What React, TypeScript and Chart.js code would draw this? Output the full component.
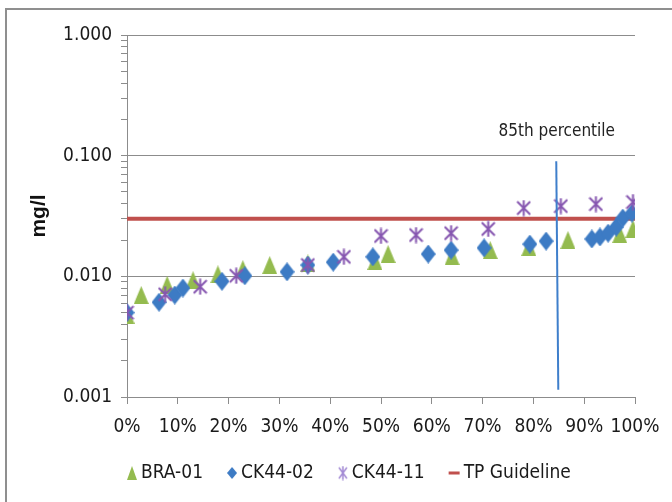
import React, { useEffect, useRef } from 'react';
import { Chart, registerables } from 'chart.js';

Chart.register(...registerables);

// ---------- data ----------
const braX = [0, 2.8, 7.9, 13.0, 17.9, 22.8, 28.1, 35.6, 48.8, 51.4, 64.0, 71.5, 79.1, 86.8, 97.0, 99.6];
const braY = [0.0048, 0.0070, 0.0085, 0.0093, 0.0104, 0.0115, 0.0124, 0.0128, 0.0134, 0.0153, 0.0147, 0.0165, 0.0175, 0.0200, 0.0224, 0.0247];

const ck02X = [0, 6.3, 9.4, 11.0, 18.7, 23.2, 31.5, 35.6, 40.6, 48.4, 59.3, 63.8, 70.3, 79.3, 82.5, 91.5, 93.1, 94.7, 96.3, 97.6, 99.4];
const ck02Y = [0.0050, 0.0061, 0.0070, 0.0080, 0.0091, 0.0101, 0.0109, 0.0124, 0.0131, 0.0145, 0.0153, 0.0165, 0.0172, 0.0185, 0.0196, 0.0204, 0.0212, 0.0228, 0.0256, 0.0304, 0.0334];

const ck11X = [0, 7.5, 14.4, 21.5, 35.6, 42.7, 50.0, 56.9, 63.8, 71.1, 78.1, 85.4, 92.3, 99.6];
const ck11Y = [0.0050, 0.0071, 0.0082, 0.0101, 0.0124, 0.0145, 0.0216, 0.0220, 0.0228, 0.0247, 0.0368, 0.0382, 0.0397, 0.0413];

const guideX = [0, 100];
const guideY = [0.03, 0.03];

const pctLineX = [84.5, 84.9];
const pctLineY = [0.09, 0.00115];

const seriesNames = ['BRA-01', 'CK44-02', 'CK44-11', 'TP Guideline'];
const xTickValues = [0, 10, 20, 30, 40, 50, 60, 70, 80, 90, 100];
const yMajorValues = [0.001, 0.01, 0.1, 1];
const yMajorLabels = ['0.001', '0.010', '0.100', '1.000'];
const yAxisTitle = 'mg/l';
const annotationText = '85th percentile';
const annotationX = 84.6;
const annotationY = 0.157;

// ---------- styles ----------
const NARROW = "'Liberation Sans Narrow', 'Arial Narrow', 'DejaVu Sans Condensed', 'Liberation Sans', Arial, sans-serif";
const GREEN = '#94bb4f';
const BLUE = '#3d7bc4';
const PURPLE = '#8656b0';
const RED = '#c0504d';
const VLINE = '#3f7fcb';
const AXIS = '#8c8c8c';
const TEXT = '#1a1a1a';

function makeCanvas(w: number, h: number, draw: (c: CanvasRenderingContext2D) => void) {
  const c = document.createElement('canvas');
  c.width = w;
  c.height = h;
  const ctx = c.getContext('2d')!;
  draw(ctx);
  return c;
}

function triangle(w: number, h: number, color: string) {
  return makeCanvas(w, h, (c) => {
    c.fillStyle = color;
    c.beginPath();
    c.moveTo(w / 2, 0);
    c.lineTo(w, h);
    c.lineTo(0, h);
    c.closePath();
    c.fill();
  });
}
function diamond(w: number, h: number, color: string) {
  return makeCanvas(w, h, (c) => {
    c.fillStyle = color;
    c.beginPath();
    c.moveTo(w / 2, 0);
    c.lineTo(w, h / 2);
    c.lineTo(w / 2, h);
    c.lineTo(0, h / 2);
    c.closePath();
    c.fill();
  });
}
function asterisk(w: number, h: number, color: string, lw: number) {
  return makeCanvas(w, h, (c) => {
    c.strokeStyle = color;
    c.lineWidth = lw;
    c.beginPath();
    c.moveTo(w / 2, 0.5);
    c.lineTo(w / 2, h - 0.5);
    c.moveTo(1, 2);
    c.lineTo(w - 1, h - 2);
    c.moveTo(w - 1, 2);
    c.lineTo(1, h - 2);
    c.stroke();
  });
}

function pts(xs: number[], ys: number[]) {
  return xs.map((x, i) => ({ x, y: ys[i] }));
}

const isMajor = (v: number) => yMajorValues.some((m) => Math.abs(m - v) < m * 1e-6);

function yTickList() {
  const out: number[] = [];
  for (let e = -3; e < 0; e++) {
    for (let k = 1; k <= 9; k++) {
      out.push(parseFloat((k * Math.pow(10, e)).toPrecision(6)));
    }
  }
  out.push(1);
  return out;
}

export default function App() {
  const ref = useRef<HTMLCanvasElement | null>(null);

  useEffect(() => {
    if (!ref.current) return;
    const triImg = triangle(15, 18, GREEN);
    const diaImg = diamond(15, 19, BLUE);
    const astImg = asterisk(15, 17, PURPLE, 2);

    const legendMarkers = [
      { kind: 'img', img: triangle(10, 14, GREEN), w: 10 },
      { kind: 'img', img: diamond(10, 12, BLUE), w: 10 },
      { kind: 'img', img: asterisk(10, 15, '#a38ad4', 1.5), w: 10 },
      { kind: 'line', color: RED, w: 11 },
    ];

    const framePlugin = {
      id: 'frame',
      beforeDraw(chart: any) {
        const { ctx, width, height } = chart;
        ctx.save();
        ctx.fillStyle = '#ffffff';
        ctx.fillRect(0, 0, width, height);
        ctx.strokeStyle = '#8f8f8f';
        ctx.lineWidth = 2;
        ctx.beginPath();
        ctx.moveTo(6, height + 5);
        ctx.lineTo(6, 9);
        ctx.lineTo(width + 5, 9);
        ctx.stroke();
        ctx.restore();
      },
    };

    const annotationPlugin = {
      id: 'annot',
      afterDatasetsDraw(chart: any) {
        const { ctx, scales } = chart;
        const px = scales.x.getPixelForValue(annotationX);
        const py = scales.y.getPixelForValue(annotationY);
        ctx.save();
        ctx.font = `17px ${NARROW}`;
        ctx.fillStyle = '#222222';
        ctx.textAlign = 'center';
        ctx.textBaseline = 'middle';
        ctx.fillText(annotationText, px, py);
        ctx.restore();
      },
    };

    const legendPlugin = {
      id: 'customLegend',
      afterDraw(chart: any) {
        const { ctx } = chart;
        const y = 473;
        let x = 127;
        ctx.save();
        ctx.font = `19px ${NARROW}`;
        ctx.fillStyle = TEXT;
        ctx.textBaseline = 'middle';
        ctx.textAlign = 'left';
        seriesNames.forEach((name, i) => {
          const m: any = legendMarkers[i];
          if (m.kind === 'img') {
            ctx.drawImage(m.img, x, y - m.img.height / 2);
          } else {
            ctx.fillStyle = m.color;
            ctx.fillRect(x, y - 1.5, m.w, 3);
          }
          const tx = x + m.w + 4;
          ctx.fillStyle = TEXT;
          ctx.fillText(name, tx, y);
          x = tx + ctx.measureText(name).width + 24;
        });
        ctx.restore();
      },
    };

    const yTicks = yTickList();

    const chart = new Chart(ref.current, {
      type: 'scatter',
      data: {
        datasets: [
          {
            label: seriesNames[0],
            data: pts(braX, braY),
            pointStyle: triImg as any,
            backgroundColor: GREEN,
            borderColor: GREEN,
            showLine: false,
            order: 4,
          },
          {
            label: seriesNames[1],
            data: pts(ck02X, ck02Y),
            pointStyle: diaImg as any,
            backgroundColor: BLUE,
            borderColor: BLUE,
            showLine: false,
            order: 3,
          },
          {
            label: seriesNames[2],
            data: pts(ck11X, ck11Y),
            pointStyle: astImg as any,
            backgroundColor: PURPLE,
            borderColor: PURPLE,
            showLine: false,
            order: 2,
          },
          {
            label: seriesNames[3],
            type: 'line' as any,
            data: pts(guideX, guideY),
            borderColor: RED,
            borderWidth: 4,
            pointRadius: 0,
            showLine: true,
            order: 5,
          },
          {
            label: 'percentile',
            type: 'line' as any,
            data: pts(pctLineX, pctLineY),
            borderColor: VLINE,
            borderWidth: 2,
            pointRadius: 0,
            showLine: true,
            order: 1,
          },
        ],
      },
      options: {
        animation: false,
        responsive: false,
        devicePixelRatio: 1,
        layout: { padding: { left: 0, top: 35, right: 37, bottom: 0 } },
        plugins: {
          legend: { display: false },
          tooltip: { enabled: false },
        },
        scales: {
          x: {
            type: 'linear',
            min: 0,
            max: 100,
            afterBuildTicks: (s: any) => {
              s.ticks = xTickValues.map((v) => ({ value: v }));
            },
            afterFit: (s: any) => {
              s.height = 105;
            },
            ticks: {
              autoSkip: false,
              maxRotation: 0,
              padding: 12,
              color: TEXT,
              font: { family: NARROW, size: 19 },
              callback: (v: any) => `${v}%`,
            },
            grid: {
              drawOnChartArea: false,
              tickLength: 7,
              color: AXIS,
              tickColor: AXIS,
            },
            border: { color: AXIS, width: 1 },
          },
          y: {
            type: 'logarithmic',
            min: 0.001,
            max: 1,
            afterBuildTicks: (s: any) => {
              s.ticks = yTicks.map((v) => ({ value: v, major: isMajor(v) }));
            },
            afterFit: (s: any) => {
              s.width = 127;
            },
            ticks: {
              autoSkip: false,
              padding: 9,
              color: TEXT,
              font: { family: NARROW, size: 19 },
              callback: (v: any) => {
                const idx = yMajorValues.findIndex((m) => Math.abs(m - v) < m * 1e-6);
                return idx >= 0 ? yMajorLabels[idx] : '';
              },
            },
            grid: {
              color: (c: any) => (c.tick && isMajor(c.tick.value) ? AXIS : 'rgba(0,0,0,0)'),
              tickColor: AXIS,
              tickLength: 6,
              lineWidth: 1,
            },
            border: { color: AXIS, width: 1 },
            title: {
              display: true,
              text: yAxisTitle,
              color: '#111111',
              font: { family: "'Liberation Sans', Arial, sans-serif", weight: 'bold', size: 21 },
              padding: { top: 27, bottom: 0 },
            },
          },
        },
      },
      plugins: [framePlugin, annotationPlugin, legendPlugin],
    } as any);

    return () => {
      chart.destroy();
    };
  }, []);

  return (
    <div style={{ position: 'fixed', left: 0, top: 0, width: 672, height: 502, background: '#fff' }}>
      <canvas ref={ref} width={672} height={502} style={{ display: 'block', width: 672, height: 502 }} />
    </div>
  );
}
